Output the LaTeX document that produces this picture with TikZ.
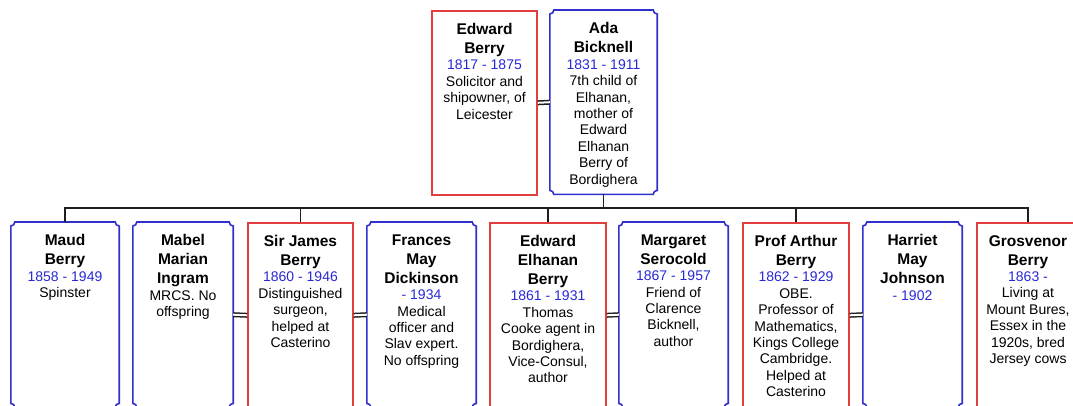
\documentclass[tikz,border=0pt]{standalone}
\usepackage{fontspec}
\setmainfont{Liberation Sans}
\definecolor{redline}{RGB}{226,62,62}
\definecolor{blueline}{RGB}{48,48,206}
\definecolor{datecol}{RGB}{40,40,215}
\definecolor{treeline}{RGB}{30,30,30}

\newcommand\pname[1]{{\fontsize{15.5}{19}\selectfont\bfseries #1\par}}
\newcommand\pdates[1]{{\color{datecol}#1\par}}
\newcommand\pbox[3]{\parbox[c][#1][t]{#2}{\centering\fontsize{14}{16.4}\selectfont\vspace*{12.5pt}#3}}
\newcommand\notchframe[1]{%
  \draw[wifeline] ([xshift=4pt]#1.north west) -- ([xshift=-4pt]#1.north east)
    arc[start angle=180,end angle=270,radius=4pt]
    -- ([yshift=4pt]#1.south east)
    arc[start angle=90,end angle=180,radius=4pt]
    -- ([xshift=4pt]#1.south west)
    arc[start angle=0,end angle=90,radius=4pt]
    -- ([yshift=-4pt]#1.north west)
    arc[start angle=270,end angle=360,radius=4pt] -- cycle;}

\tikzset{
  husband/.style={draw=redline, line width=1.6pt, inner sep=0pt, anchor=north},
  wife/.style={inner sep=0pt, anchor=north},
  wifeline/.style={draw=blueline, line width=1.6pt},
  marriage/.style={draw=treeline, double, double distance=2pt, line width=1.5pt},
  descent/.style={draw=treeline, line width=1.7pt},
}

\begin{document}
\begin{tikzpicture}[x=1pt, y=-1pt]
    \useasboundingbox (0,0) rectangle (1073,406);
    \clip (0,0) rectangle (1073,406);

    % parents
    \node[husband] (EB) at (484.5,10) {\pbox{184pt}{105pt}{\pname{Edward\\Berry}\pdates{1817 - 1875}Solicitor and\\shipowner, of\\Leicester}};
    \node[wife] (AB) at (603.5,10) {\pbox{184pt}{107pt}{\pname{Ada\\Bicknell}\pdates{1831 - 1911}7th child of\\Elhanan,\\mother of\\Edward\\Elhanan\\Berry of\\Bordighera}};
    \notchframe{AB}

    % children and spouses
    \node[wife] (Maud) at (65,222) {\pbox{185pt}{108pt}{\pname{Maud\\Berry}\pdates{1858 - 1949}Spinster}};
    \notchframe{Maud}
    \node[wife] (Mabel) at (183,222) {\pbox{185pt}{100pt}{\pname{Mabel\\Marian\\Ingram}MRCS. No\\offspring}};
    \notchframe{Mabel}
    \node[husband] (James) at (300.5,222) {\pbox{185pt}{105pt}{\pname{Sir James\\Berry}\pdates{1860 - 1946}Distinguished\\surgeon,\\helped at\\Casterino}};
    \node[wife] (Frances) at (421.5,222) {\pbox{185pt}{109pt}{\pname{Frances\\May\\Dickinson}\pdates{- 1934}Medical\\officer and\\Slav expert.\\No offspring}};
    \notchframe{Frances}
    \node[husband] (EEB) at (548,222) {\pbox{185pt}{116pt}{\pname{Edward\\Elhanan\\Berry}\pdates{1861 - 1931}Thomas\\Cooke agent in\\Bordighera,\\Vice-Consul,\\author}};
    \node[wife] (Margaret) at (673.5,222) {\pbox{185pt}{109pt}{\pname{Margaret\\Serocold}\pdates{1867 - 1957}Friend of\\Clarence\\Bicknell,\\author}};
    \notchframe{Margaret}
    \node[husband] (Arthur) at (796,222) {\pbox{185pt}{106pt}{\pname{Prof Arthur\\Berry}\pdates{1862 - 1929}OBE.\\Professor of\\Mathematics,\\Kings College\\Cambridge.\\Helped at\\Casterino}};
    \node[wife] (Harriet) at (912.5,222) {\pbox{185pt}{99pt}{\pname{Harriet\\May\\Johnson}\pdates{- 1902}}};
    \notchframe{Harriet}
    \node[husband] (Grosvenor) at (1028,222) {\pbox{185pt}{102pt}{\pname{Grosvenor\\Berry}\pdates{1863 -}Living at\\Mount Bures,\\Essex in the\\1920s, bred\\Jersey cows}};

    \coordinate (bar) at (0,208);

    % marriages
    \draw[marriage] (EB.east) -- (AB.west);
    \draw[marriage] (Mabel.east) -- (James.west);
    \draw[marriage] (James.east) -- (Frances.west);
    \draw[marriage] (EEB.east) -- (Margaret.west);
    \draw[marriage] (Arthur.east) -- (Harriet.west);

    % descent lines
    \draw[descent] (AB.south) -- (AB.south |- bar);
    \draw[descent] (Maud.north) -- (Maud.north |- bar) -- (Grosvenor.north |- bar) -- (Grosvenor.north);
    \draw[descent] (James.north) -- (James.north |- bar);
    \draw[descent] (EEB.north) -- (EEB.north |- bar);
    \draw[descent] (Arthur.north) -- (Arthur.north |- bar);

\end{tikzpicture}
\end{document}
